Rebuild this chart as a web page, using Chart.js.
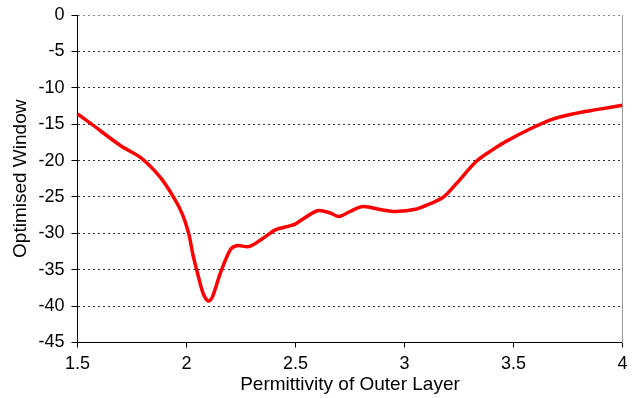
<!DOCTYPE html>
<html>
<head>
<meta charset="utf-8">
<script src="https://cdn.jsdelivr.net/npm/chart.js@4"></script>
<style>
  html, body { margin: 0; padding: 0; background: #fff; }
  #wrap { width: 637px; height: 398px; }
</style>
</head>
<body>
<div id="wrap"><canvas id="chart" width="637" height="398"></canvas></div>
<script>
// Values
const permittivity = [1.5, 1.56, 1.7, 1.79, 1.88, 1.94, 1.98, 2.01, 2.03, 2.055, 2.077, 2.1, 2.118, 2.155, 2.2, 2.23, 2.29, 2.35, 2.41, 2.47, 2.5, 2.6, 2.66, 2.7, 2.75, 2.81, 2.9, 2.96, 3.05, 3.12, 3.18, 3.24, 3.33, 3.41, 3.47, 3.58, 3.68, 3.77, 3.88, 4.0];
const windowValues = [-13.6, -14.9, -18.0, -19.6, -22.3, -25.0, -27.3, -30.0, -33.0, -36.0, -38.3, -39.3, -38.8, -35.5, -32.3, -31.7, -31.8, -30.7, -29.5, -29.0, -28.7, -26.9, -27.2, -27.7, -27.0, -26.3, -26.8, -27.0, -26.7, -25.9, -25.0, -23.1, -20.1, -18.4, -17.3, -15.6, -14.3, -13.6, -13.0, -12.4];
const xTicks = [1.5, 2, 2.5, 3, 3.5, 4];
const yTicks = [0, -5, -10, -15, -20, -25, -30, -35, -40, -45];

const points = permittivity.map((x, i) => ({ x: x, y: windowValues[i] }));
const tickFont = { family: 'Arial, "Liberation Sans", sans-serif', size: 18 };
const titleFont = { family: 'Arial, "Liberation Sans", sans-serif', size: 19 };

new Chart(document.getElementById('chart'), {
    type: 'line',
    data: {
        datasets: [{
            data: points,
            borderColor: '#ff0000',
            borderWidth: 3.5,
            pointRadius: 0,
            fill: false,
            tension: 0.3
        }]
    },
    options: {
        responsive: false,
        animation: false,
        layout: { padding: { left: 5, right: 14.5, top: 15, bottom: 0 } },
        plugins: { legend: { display: false }, tooltip: { enabled: false } },
        scales: {
            x: {
                type: 'linear',
                min: 1.5,
                max: 4,
                afterBuildTicks: function(scale) {
                    scale.ticks = xTicks.map(v => ({ value: v }));
                },
                afterFit: function(scale) {
                    scale.height = 55.5;
                    scale.paddingLeft = 0;
                    scale.paddingRight = 0;
                },
                border: { color: '#000', width: 1 },
                grid: {
                    drawOnChartArea: false,
                    tickColor: '#000',
                    tickLength: 5
                },
                ticks: {
                    color: '#000',
                    font: tickFont,
                    padding: 6,
                    maxRotation: 0,
                    callback: function(v) { return String(v); }
                },
                title: {
                    display: true,
                    text: 'Permittivity of Outer Layer',
                    color: '#000',
                    font: titleFont,
                    padding: { top: 0, bottom: 2 }
                }
            },
            y: {
                min: -45,
                max: 0,
                afterBuildTicks: function(scale) {
                    scale.ticks = yTicks.map(v => ({ value: v }));
                },
                afterFit: function(scale) {
                    scale.width = 72.5;
                    scale.paddingTop = 0;
                    scale.paddingBottom = 0;
                },
                border: { color: '#000', width: 1, dash: [2, 3] },
                grid: {
                    color: function(ctx) {
                        if (!ctx.tick) return 'rgba(0,0,0,0)';
                        if (ctx.tick.value === -45) return 'rgba(0,0,0,0)';
                        if (ctx.tick.value === 0) return '#888';
                        return '#333';
                    },
                    tickColor: '#000',
                    tickLength: 6,
                    tickBorderDash: []
                },
                ticks: { color: '#000', font: tickFont, padding: 7 },
                title: {
                    display: true,
                    text: 'Optimised Window',
                    color: '#000',
                    font: titleFont,
                    padding: { top: 4, bottom: 4 }
                }
            },
            yRight: {
                position: 'right',
                min: -45,
                max: 0,
                afterFit: function(scale) {
                    scale.width = 0;
                    scale.paddingTop = 0;
                    scale.paddingBottom = 0;
                },
                border: { color: '#999', width: 1 },
                grid: { drawOnChartArea: false, drawTicks: false },
                ticks: { display: false }
            }
        }
    }
});
</script>
</body>
</html>
